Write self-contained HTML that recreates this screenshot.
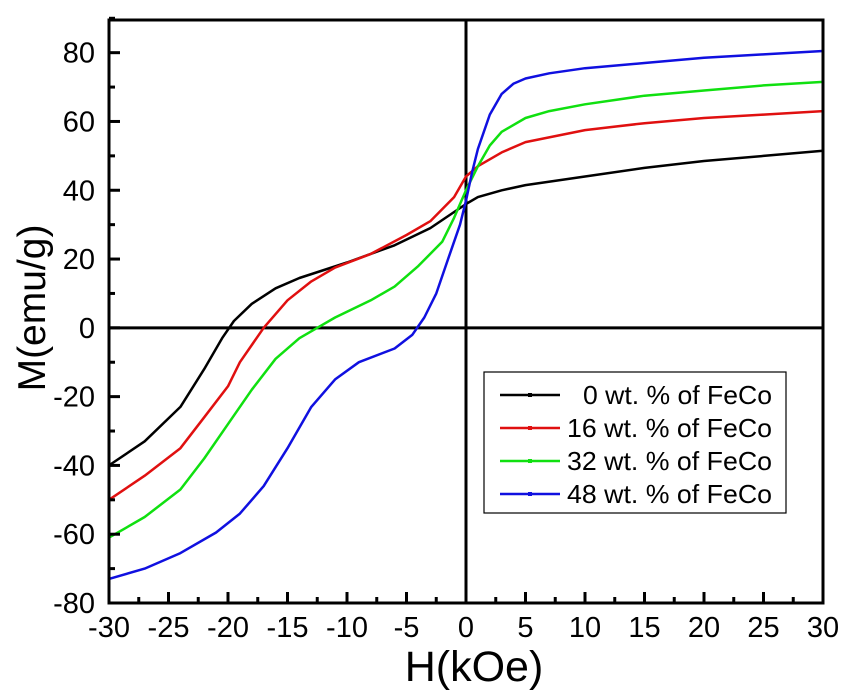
<!DOCTYPE html>
<html><head><meta charset="utf-8"><style>
body{margin:0;background:#fff}
svg text{font-family:"Liberation Sans",Arial,sans-serif;fill:#000}
</style></head><body>
<svg id="chart" width="857" height="694" viewBox="0 0 857 694" xmlns="http://www.w3.org/2000/svg">
<g id="plot"></g>
</svg>
<script>
const seriesNames = ["0 wt. % of FeCo","16 wt. % of FeCo","32 wt. % of FeCo","48 wt. % of FeCo"];
const seriesColors = ["#000000","#e01010","#10e010","#1010e0"];
const h0 = [-30,-27,-24,-22,-20.5,-19.5,-18,-16,-14,-10,-6,-3,0,1,3,5,10,15,20,25,30];
const m0 = [-40,-33,-23,-12,-3,2,7,11.5,14.5,19,24,29,36,38,40,41.5,44,46.5,48.5,50,51.5];
const h1 = [-30,-27,-24,-22,-20,-19,-17,-15,-13,-11,-8,-5,-3,-1,0,1,3,5,10,15,20,25,30];
const m1 = [-50,-43,-35,-26,-17,-10,0,8,13.5,17.5,21.5,27,31,38,44,47,51,54,57.5,59.5,61,62,63];
const h2 = [-30,-27,-24,-22,-20,-18,-16,-14,-12.5,-11,-8,-6,-4,-2,-1,0,1,2,3,5,7,10,15,20,25,30];
const m2 = [-61,-55,-47,-38,-28,-18,-9,-3,0,3,8,12,18,25,32,40,47,53,57,61,63,65,67.5,69,70.5,71.5];
const h3 = [-30,-27,-24,-21,-19,-17,-15,-13,-11,-9,-6,-4.5,-3.5,-2.5,-1.5,-0.5,0,0.5,1,2,3,4,5,7,10,15,20,25,30];
const m3 = [-73,-70,-65.5,-59.5,-54,-46,-35,-23,-15,-10,-6,-2,3,10,20,30,37,45,52,62,68,71,72.5,74,75.5,77,78.5,79.5,80.5];
const xTicks = [-30,-25,-20,-15,-10,-5,0,5,10,15,20,25,30];
const yTicks = [-80,-60,-40,-20,0,20,40,60,80];

const L=109,R=823,T=20,B=603;
const xMin=-30,xMax=30,yMin=-80,yMax=89.5;
const sx=v=>L+(v-xMin)/(xMax-xMin)*(R-L);
const sy=v=>B-(v-yMin)/(yMax-yMin)*(B-T);
const NS="http://www.w3.org/2000/svg";
const g=document.getElementById('plot');
function mk(tag,attrs,parent){const e=document.createElementNS(NS,tag);for(const k in attrs)e.setAttribute(k,attrs[k]);(parent||g).appendChild(e);return e;}

let zl=mk('line',{x1:sx(0),x2:sx(0),y1:T,y2:B,stroke:'#000','stroke-width':3});


zl=mk('line',{x1:L,x2:R,y1:sy(0),y2:sy(0),stroke:'#000','stroke-width':3});



const H=[h0,h1,h2,h3],M=[m0,m1,m2,m3];
for(let s=0;s<4;s++){
  const pts=H[s].map((h,i)=>sx(h).toFixed(1)+','+sy(M[s][i]).toFixed(1)).join(' ');
  const pl=mk('polyline',{points:pts,fill:'none',stroke:seriesColors[s],'stroke-width':2.5,'stroke-linejoin':'round'});
  
  
}

const fr=mk('rect',{x:L,y:T,width:R-L,height:B-T,fill:'none',stroke:'#000','stroke-width':3});



xTicks.forEach((v,i)=>{
  const x=sx(v);
  const t=mk('line',{x1:x,x2:x,y1:B,y2:B-11,stroke:'#000','stroke-width':3});
  
  
  if(i<xTicks.length-1){const xm=sx(v+2.5);
    const m=mk('line',{x1:xm,x2:xm,y1:B,y2:B-6,stroke:'#000','stroke-width':3});
    
    }
  const lb=mk('text',{x:x,y:637,'font-size':29,'text-anchor':'middle'});
  lb.textContent=v;
  
  
});
yTicks.forEach((v,i)=>{
  const y=sy(v);
  const t=mk('line',{x1:L,x2:L+11,y1:y,y2:y,stroke:'#000','stroke-width':3});
  
  
  const ym=sy(v+10);
  const m=mk('line',{x1:L,x2:L+6,y1:ym,y2:ym,stroke:'#000','stroke-width':3});
  
  
  const lb=mk('text',{x:95,y:y+10,'font-size':29,'text-anchor':'end'});
  lb.textContent=v;
  
  
});
let at=mk('text',{x:474,y:681,'font-size':43,'text-anchor':'middle'});
at.textContent='H(kOe)';


at=mk('text',{x:0,y:0,'font-size':39,'text-anchor':'middle',transform:'translate(45,308) rotate(-90)'});
at.textContent='M(emu/g)';



const lg=mk('g',{});


mk('rect',{x:484,y:372,width:302,height:141,fill:'#fff',stroke:'#000','stroke-width':1.2},lg);
const legendWidths=[189,205,205,205];
seriesNames.forEach((n,i)=>{
  const y=395+i*33;
  const e=mk('g',{},lg);
  
  
  mk('line',{x1:500,x2:560,y1:y,y2:y,stroke:seriesColors[i],'stroke-width':2.5},e);
  mk('rect',{x:528,y:y-2,width:4,height:4,fill:seriesColors[i]},e);
  const t=mk('text',{x:772,y:y+9,'font-size':26,'text-anchor':'end',textLength:legendWidths[i],lengthAdjust:'spacingAndGlyphs'},e);
  t.textContent=n;
});
</script>
</body></html>
